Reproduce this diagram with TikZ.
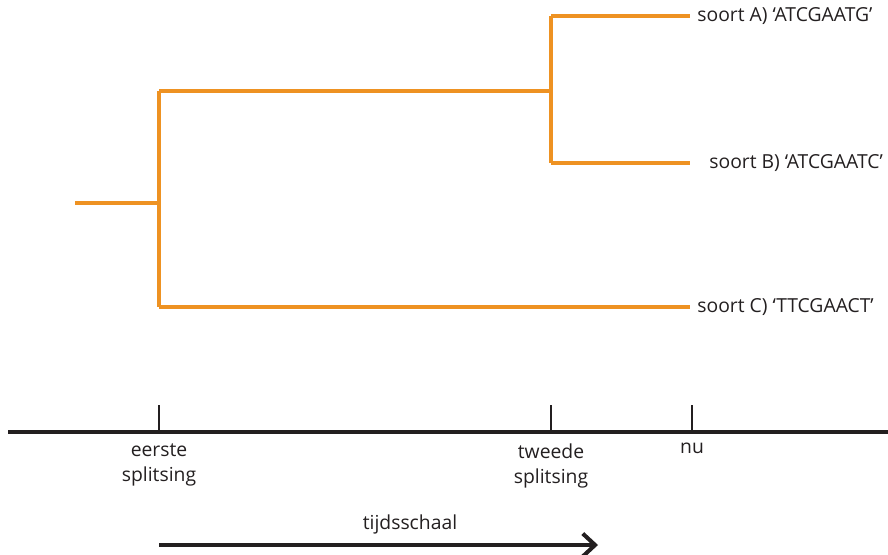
\documentclass[tikz,border=0pt]{standalone}
\usepackage{fontspec}
\setmainfont{Open Sans}
\usepackage{xcolor}
\usetikzlibrary{arrows.meta}
\definecolor{tak}{RGB}{238,146,34}
\definecolor{inkt}{RGB}{35,31,32}

\begin{document}
\begin{tikzpicture}[x={(0.02cm,0)},y={(0,-0.02cm)},
    tree/.style={tak, line width=4*0.02cm},
    axis/.style={inkt, line width=4*0.02cm},
    tick/.style={inkt, line width=2*0.02cm},
    lbl/.style={font=\fontsize{11pt}{14.6pt}\selectfont, text=inkt, inner sep=0pt}]
                \useasboundingbox (0,0) rectangle (888,554);
                \coordinate (root) at (75,203);
                \coordinate (s1) at (159,203);
                \coordinate (s1top) at (159,91);
                \coordinate (s1bot) at (159,307);
                \coordinate (s2) at (551,91);
                \coordinate (s2top) at (551,16);
                \coordinate (s2bot) at (551,163);
                \coordinate (a) at (690,16);
                \coordinate (b) at (690,163);
                \coordinate (c) at (690,307);
                \node [lbl, anchor=west] (la) at (697,16) {soort A) ‘ATCGAATG’};
                \node [lbl, anchor=west] (lb) at (709,163) {soort B) ‘ATCGAATC’};
                \node [lbl, anchor=west] (lc) at (697,307) {soort C) ‘TTCGAACT’};
                \draw [tree] (root) -- (s1);
                \draw [tree] (s1top) -- (s1bot);
                \draw [tree] (s1top) -- (s2);
                \draw [tree] (s2top) -- (s2bot);
                \draw [tree] (s2top) -- (a);
                \draw [tree] (s2bot) -- (b);
                \draw [tree] (s1bot) -- (c);
                % tijdas
                \coordinate (t0) at (8,432);
                \coordinate (t1) at (888,432);
                \draw [axis] (t0) -- (t1);
                \coordinate (k1) at (159,432);
                \coordinate (k2) at (551,432);
                \coordinate (k3) at (692,432);
                \draw [tick] (k1) -- ++(0,-27);
                \draw [tick] (k2) -- ++(0,-27);
                \draw [tick] (k3) -- ++(0,-27);
                \node [lbl, anchor=north, align=center] (eerste) at (159,443) {eerste\\splitsing};
                \node [lbl, anchor=north, align=center] (tweede) at (551,443) {tweede\\splitsing};
                \node [lbl, anchor=north] (nu) at (692,443) {nu};
                \coordinate (p0) at (159,545);
                \coordinate (p1) at (598,545);
                \draw [axis, -{Straight Barb[length=7pt,width=13pt]}] (p0) -- (p1);
                \node [lbl] (schaal) at (410,524) {tijdsschaal};
            \end{tikzpicture}
\end{document}
